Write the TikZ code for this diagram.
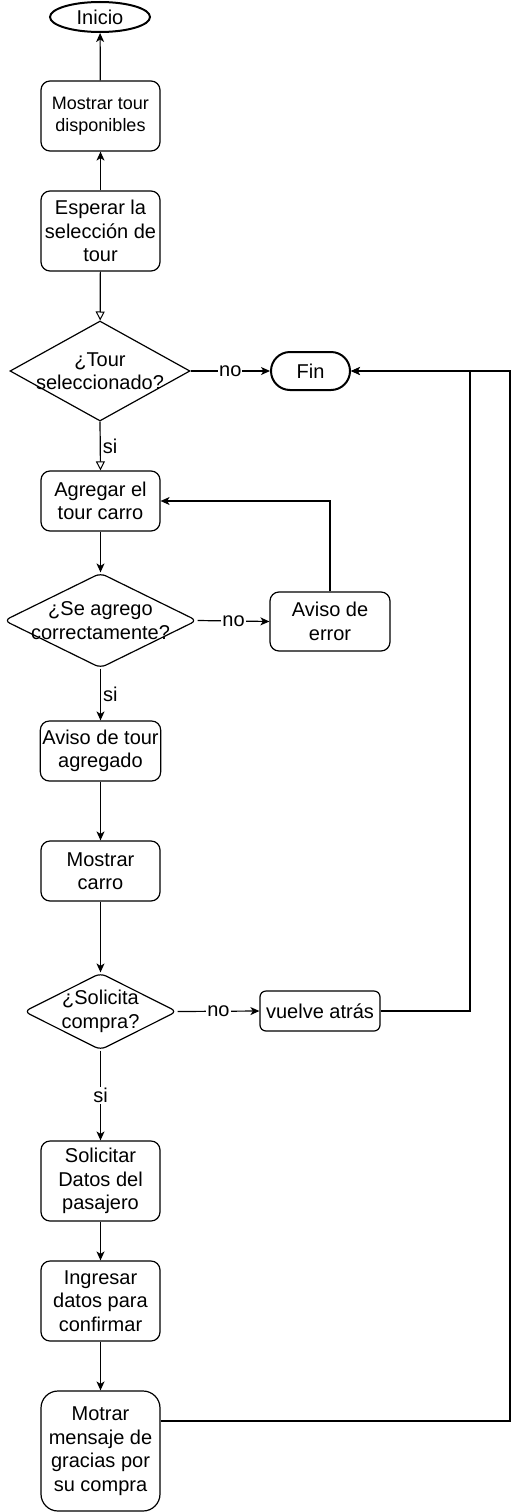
\documentclass[tikz,border=0pt]{standalone}
\usepackage{fontspec}
\setmainfont{Liberation Sans}
\usetikzlibrary{shapes.geometric,arrows.meta,calc}
\newcommand\mfs{\fontsize{20}{23.5}\selectfont}
\newcommand\sfs{\fontsize{18}{22}\selectfont}
\begin{document}
\begin{tikzpicture}[x=1pt,y=-1pt,line width=1.2pt,
  box/.style={draw, rounded corners=9pt, minimum width=119pt, minimum height=60pt, align=center, font=\mfs, inner sep=2pt},
  term/.style={draw, line width=2pt, align=center, font=\mfs, inner sep=0pt},
  dia/.style={draw, diamond, inner sep=0pt},
  txt/.style={align=center, font=\mfs, inner sep=0pt},
  arr/.style={-{Stealth[length=9pt,width=8pt,inset=2.5pt]}},
  oarr/.style={-{Triangle[open,length=9pt,width=9pt,line width=1pt]}},
  lbl/.style={fill=white, font=\mfs, inner sep=1pt},
  slbl/.style={font=\mfs, inner sep=1pt, anchor=west}]
\useasboundingbox (0,0) rectangle (519,1512);

\node[term, ellipse, minimum width=100pt, minimum height=30pt] (inicio) at (100,17) {Inicio};
\node[box, font=\sfs, minimum height=70pt] (mostrar) at (100.5,116) {Mostrar tour\\disponibles};
\node[box, minimum height=80pt] (esperar) at (100.5,231) {Esperar la\\selección de\\tour};
\node[dia, minimum width=180pt, minimum height=100pt] (d1) at (100,371) {};
\node[txt] at (d1) {¿Tour\\seleccionado?};
\node[term, rounded corners=19pt, minimum width=79pt, minimum height=38pt] (fin) at (310.5,371) {Fin};
\node[box] (agregar) at (100.5,501) {Agregar el\\tour carro};
\node[dia, rounded corners=6pt, minimum width=193pt, minimum height=95pt] (d2) at (100.5,620.5) {};
\node[txt] at (d2) {¿Se agrego\\correctamente?};
\node[box, minimum width=120pt, minimum height=59pt] (aviso) at (330,621.5) {Aviso de\\error};
\node[box] (avisotour) at (100.5,751) {Aviso de tour\\agregado};
\node[box] (mcarro) at (100.5,871) {Mostrar\\carro};
\node[dia, rounded corners=6pt, minimum width=153pt, minimum height=77pt] (d3) at (100.5,1011.5) {};
\node[txt] at (d3) {¿Solicita\\compra?};
\node[box, rounded corners=6pt, minimum width=120pt, minimum height=40pt] (vuelve) at (320,1011) {vuelve atrás};
\node[box, minimum height=80pt] (solicitar) at (100.5,1181) {Solicitar\\Datos del\\pasajero};
\node[box, minimum height=80pt] (ingresar) at (100.5,1301) {Ingresar\\datos para\\confirmar};
\node[box, rounded corners=17pt, minimum height=120pt] (motrar) at (100.5,1451) {Motrar\\mensaje de\\gracias por\\su compra};

\coordinate (c1) at (470,371);
\coordinate (c2) at (510,371);

\draw[arr] (mostrar) -- (inicio);
\draw[arr] (esperar) -- (mostrar);
\draw[oarr] (esperar) -- (d1);
\draw[arr] (d1.east) -- node[lbl]{no} (fin.west);
\draw[oarr] (d1.south) -- node[slbl, xshift=1pt]{si} (agregar.north);
\draw[arr] (agregar) -- (d2.north);
\draw[arr] (d2.east) -- node[lbl]{no} (aviso.west);
\draw[arr] (aviso.north) |- (agregar.east);
\draw[arr] (d2.south) -- node[slbl, xshift=1pt]{si} (avisotour.north);
\draw[arr] (avisotour) -- (mcarro);
\draw[arr] (mcarro) -- (d3.north);
\draw[arr] (d3.east) -- node[lbl]{no} (vuelve.west);
\draw[arr] (vuelve.east) -| (c1) -- (fin.east);
\draw[arr] (d3.south) -- node[lbl]{si} (solicitar.north);
\draw[arr] (solicitar) -- (ingresar);
\draw[arr] (ingresar) -- (motrar);
\draw[arr] ([yshift=30pt]motrar.east) -| (c2) -- (fin.east);
\end{tikzpicture}
\end{document}
